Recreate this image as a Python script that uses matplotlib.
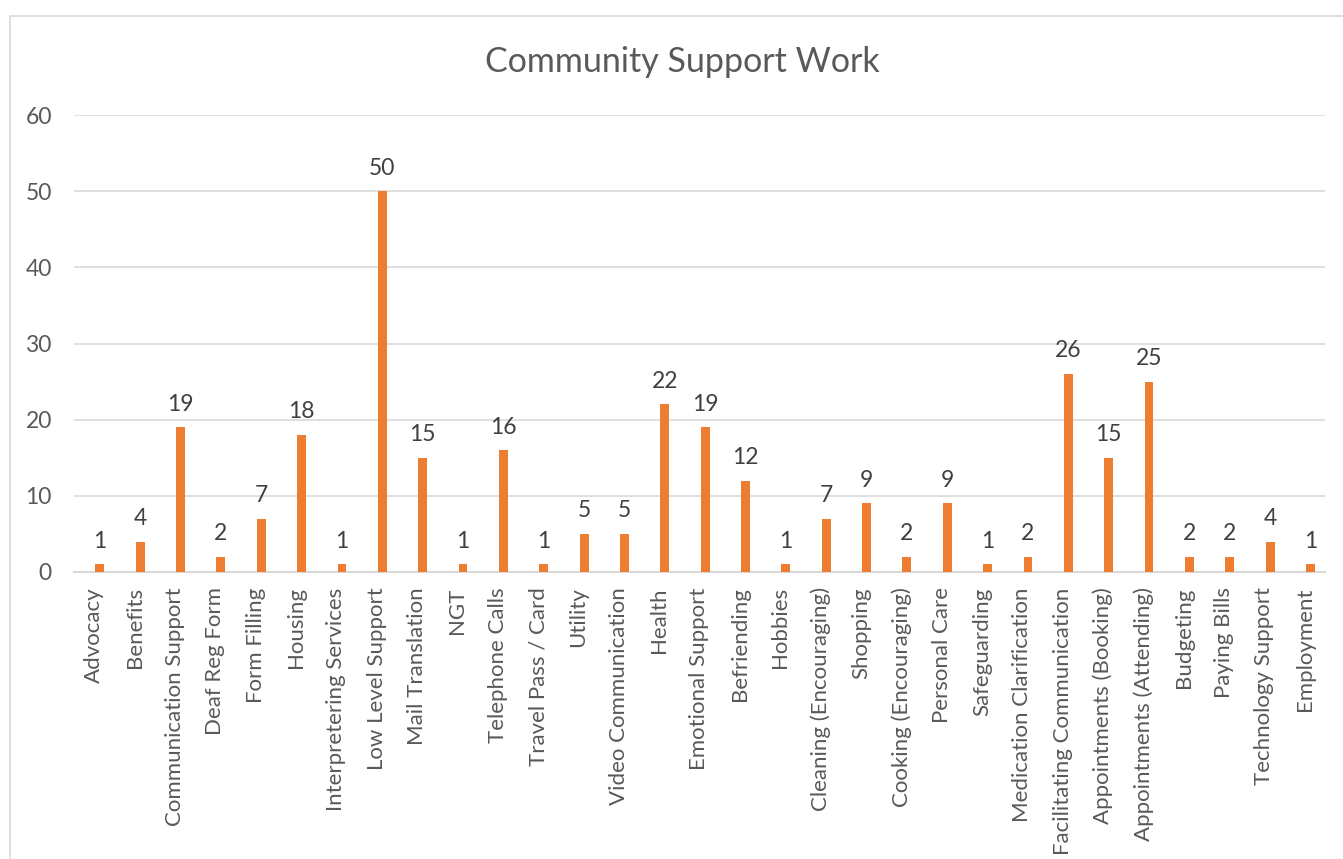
import matplotlib.pyplot as plt
import numpy as np
from matplotlib.patches import Rectangle

categorias = ["Advocacy", "Benefits", "Communication Support", "Deaf Reg Form",
              "Form Filling", "Housing", "Interpretering Services", "Low Level Support",
              "Mail Translation", "NGT", "Telephone Calls", "Travel Pass / Card",
              "Utility", "Video Communication", "Health", "Emotional Support",
              "Befriending", "Hobbies", "Cleaning (Encouraging)", "Shopping",
              "Cooking (Encouraging)", "Personal Care", "Safeguarding",
              "Medication Clarification", "Facilitating Communication",
              "Appointments (Booking)", "Appointments (Attending)", "Budgeting",
              "Paying Bills", "Technology Support", "Employment"]
valores = [1, 4, 19, 2, 7, 18, 1, 50, 15, 1, 16, 1, 5, 5, 22, 19, 12, 1, 7, 9,
           2, 9, 1, 2, 26, 15, 25, 2, 2, 4, 1]
y_ticks = [0, 10, 20, 30, 40, 50, 60]

plt.rcParams['font.family'] = ['Lato', 'DejaVu Sans']

fig = plt.figure(figsize=(13.43, 8.59), dpi=100)
ax = fig.add_axes([74/1343, 1 - 572/859, (1325 - 74)/1343, (572 - 115)/859])

# moldura do gráfico (cortada à direita e embaixo)
fig.patches.append(Rectangle((10/1343, -0.1), 1.2, 1 - 16/859 + 0.1,
                             transform=fig.transFigure, fill=False,
                             edgecolor='#D9D9D9', linewidth=1.2))

x = np.arange(len(categorias))
desloc = 0.14  # barras um pouco à direita do centro da categoria, como no Excel
barras = ax.bar(x + desloc, valores, width=0.22, color='#ED7D31', zorder=3)

for xi, v in zip(x, valores):
    ax.annotate(str(v), (xi + desloc, v), xytext=(0, 9), textcoords='offset points',
                ha='center', va='bottom', fontsize=16.5, color='#404040')

ax.set_xlim(-0.5, len(categorias) - 0.5)
ax.set_ylim(0, 60)
ax.set_yticks(y_ticks)
ax.set_xticks(x)
ax.set_xticklabels(categorias, rotation=90, fontsize=16, color='#595959')
ax.tick_params(axis='y', labelsize=16.5, labelcolor='#595959', length=0, pad=16)
ax.tick_params(axis='x', length=0, pad=11)
ax.grid(axis='y', color='#D9D9D9', linewidth=1.2, zorder=0)

for lado in ['top', 'right', 'left']:
    ax.spines[lado].set_visible(False)
ax.spines['bottom'].set_color('#D9D9D9')
ax.spines['bottom'].set_linewidth(1.5)

fig.text(682/1343, 1 - 62/859, 'Community Support Work', ha='center', va='center',
         fontsize=24.5, color='#595959')

fig.savefig('out.png', dpi=100)
